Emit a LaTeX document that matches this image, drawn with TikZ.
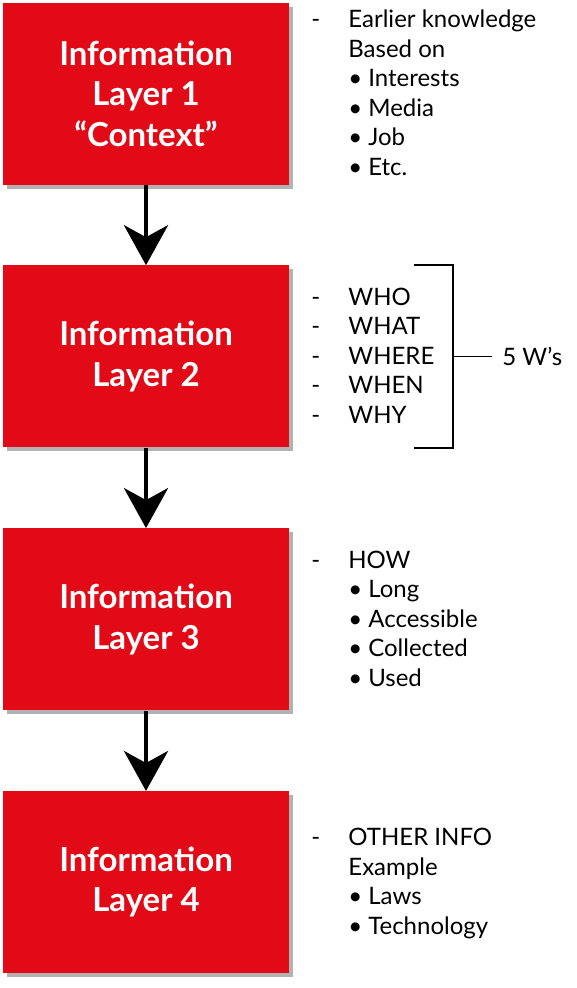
\documentclass[tikz,border=0pt]{standalone}
\usepackage{fontspec}
\setmainfont{Lato}
\usetikzlibrary{arrows.meta, positioning, shadows}

\definecolor{layerred}{RGB}{225,10,22}
\newcommand{\itm}{\textbullet\hspace{0.25em}}

\tikzset{
  layer/.style={rectangle, fill=layerred, minimum width=286pt, minimum height=182pt,
    text=white, align=center, font=\bfseries\fontsize{33}{40.5}\selectfont,
    drop shadow={shadow xshift=4pt, shadow yshift=-4pt, opacity=0.3, fill=black}},
  flow/.style={-{Stealth[length=40pt, width=44pt, inset=12pt]}, line width=4.5pt},
  sidetext/.style={inner sep=0pt, font=\fontsize{24}{29.6}\selectfont},
  bracket/.style={line width=1.8pt},
}

\begin{document}
\begin{tikzpicture}[x=1pt, y=-1pt]
    \useasboundingbox (0,0) rectangle (576,988);
    % Layer boxes
    \node[layer] (layer1) at (146,93.5) {Information\\Layer 1\\“Context”};
    \node[layer, below=80.5pt of layer1] (layer2) {Information\\Layer 2};
    \node[layer, below=80.5pt of layer2] (layer3) {Information\\Layer 3};
    \node[layer, below=80.5pt of layer3] (layer4) {Information\\Layer 4};
    % Arrows
    \draw[flow] (layer1) -- (layer2);
    \draw[flow] (layer2) -- (layer3);
    \draw[flow] (layer3) -- (layer4);
    % Side notes
    \node[sidetext, right=22pt of layer1, yshift=-2pt] (info1) {\begin{tabular}{@{}p{37pt}@{}l@{}}
      - & Earlier knowledge\\
        & Based on\\
        & \itm Interests\\
        & \itm Media\\
        & \itm Job\\
        & \itm Etc.
    \end{tabular}};
    \node[sidetext, right=22pt of layer2, yshift=-2pt] (info2) {\begin{tabular}{@{}p{37pt}@{}l@{}}
      - & WHO\\
      - & WHAT\\
      - & WHERE\\
      - & WHEN\\
      - & WHY
    \end{tabular}};
    \node[sidetext, right=22pt of layer3, yshift=-2pt] (info3) {\begin{tabular}{@{}p{37pt}@{}l@{}}
      - & HOW\\
        & \itm Long\\
        & \itm Accessible\\
        & \itm Collected\\
        & \itm Used
    \end{tabular}};
    \node[sidetext, right=22pt of layer4, yshift=-2pt] (info4) {\begin{tabular}{@{}p{37pt}@{}l@{}}
      - & OTHER INFO\\
        & Example\\
        & \itm Laws\\
        & \itm Technology
    \end{tabular}};
    % Bracket round the 5 W's
    \coordinate (brtop) at ([xshift=125pt]layer2.north east);
    \coordinate (brbot) at ([xshift=125pt]layer2.south east);
    \coordinate (brmid) at ([xshift=164pt]layer2.east);
    \draw[bracket] (brtop) -| (brmid) |- (brbot);
    \node[sidetext, right=49pt of brmid] (fivew) {5 W’s};
    \draw[bracket] (brmid) -- ([xshift=-10pt]fivew.west);
\end{tikzpicture}
\end{document}
